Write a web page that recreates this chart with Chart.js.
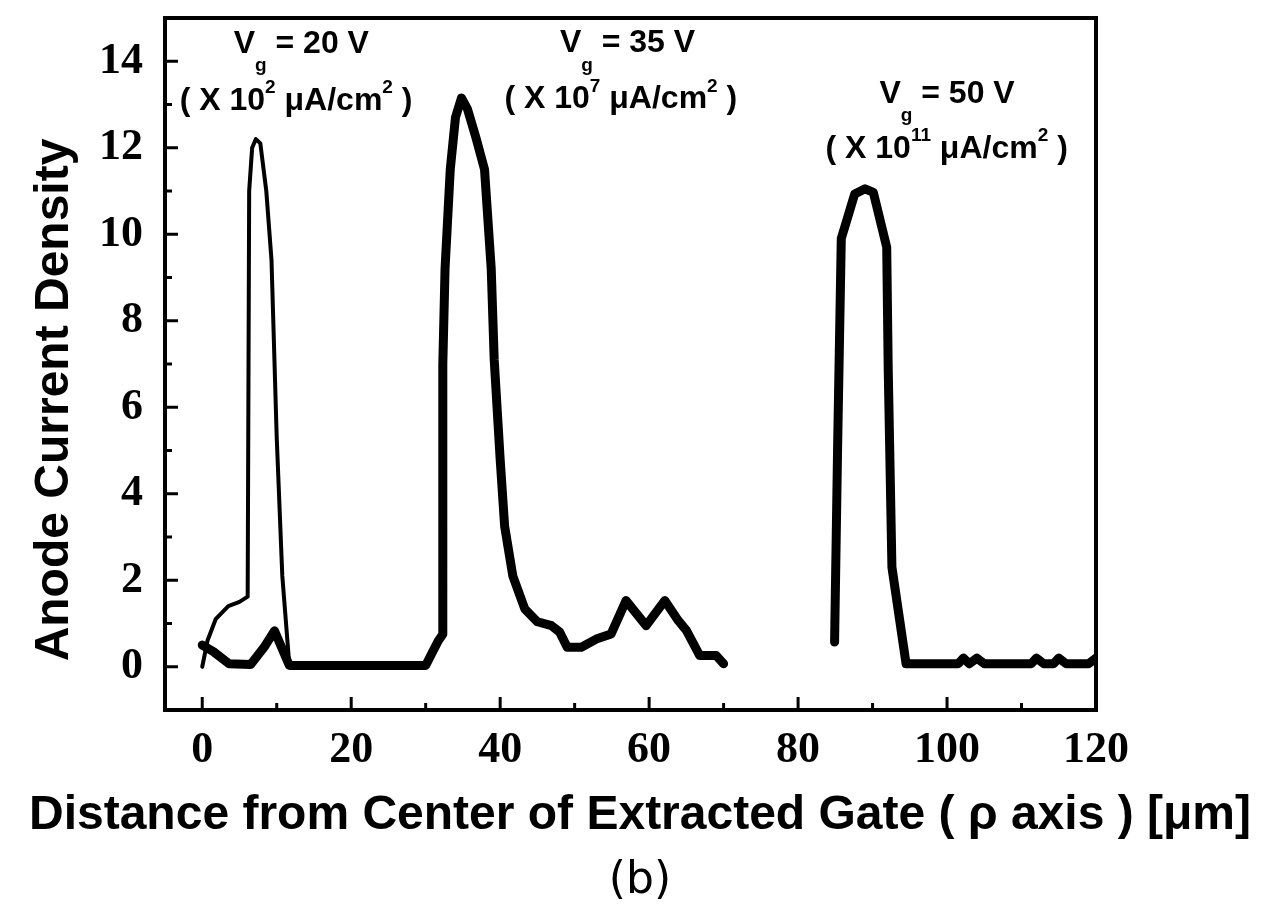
<!DOCTYPE html>
<html>
<head>
<meta charset="utf-8">
<script src="https://cdn.jsdelivr.net/npm/chart.js@4"></script>
<style>
  html, body { margin: 0; padding: 0; background: #fff; }
</style>
</head>
<body>
<canvas id="chart" width="1279" height="920"></canvas>
<script>
// Vg = 20 V  (x 10^2 uA/cm2), thin trace
const x20 = [0, 0.7, 1.8, 3.5, 5.0, 6.1, 6.3, 6.7, 7.2, 7.8, 8.6, 9.3, 10.0, 10.75, 11.7, 20, 30];
const y20 = [0, 0.6, 1.1, 1.4, 1.5, 1.62, 11.0, 12.0, 12.2, 12.1, 11.0, 9.4, 5.3, 2.1, 0.02, 0.02, 0.02];

// Vg = 35 V  (x 10^7 uA/cm2)
const x35 = [0, 1.5, 3.6, 6.5, 8.3, 9.7, 11.7, 30, 30.8, 31.7, 32.3, 32.3, 32.6, 33.3, 34.0, 34.8, 35.6, 36.8,
             37.9, 38.8, 39.2, 40.0, 40.6, 41.7, 43.3, 45.0, 46.9, 48.0, 49.0, 50.9, 52.9, 54.9, 56.9, 59.6,
             62.1, 63.9, 65.0, 66.8, 69.0, 70.0];
const y35 = [0.5, 0.35, 0.07, 0.05, 0.45, 0.83, 0.03, 0.03, 0.3, 0.6, 0.75, 7.0, 9.2, 11.5, 12.7, 13.15, 12.9, 12.2,
             11.5, 9.2, 7.1, 4.8, 3.25, 2.1, 1.34, 1.04, 0.95, 0.8, 0.45, 0.45, 0.64, 0.76, 1.53, 0.95,
             1.53, 1.07, 0.84, 0.26, 0.26, 0.07];

// Vg = 50 V  (x 10^11 uA/cm2)
const x50 = [84.9, 85.3, 85.8, 86.5, 87.6, 89.0, 90.1, 91.9, 92.1, 92.6, 94.5, 101.5, 102.2, 103.0, 104.0, 105.0,
             111.3, 112.0, 113.0, 114.3, 115.0, 116.0, 119.0, 120.0];
const y50 = [0.57, 5.0, 9.9, 10.3, 10.93, 11.05, 10.97, 9.7, 6.9, 2.3, 0.07, 0.07, 0.2, 0.07, 0.2, 0.07,
             0.07, 0.2, 0.07, 0.07, 0.2, 0.07, 0.07, 0.2];

const xTicks = [0, 20, 40, 60, 80, 100, 120];
const xMinor = [10, 30, 50, 70, 90, 110];
const yTicks = [0, 2, 4, 6, 8, 10, 12, 14];
const yMinor = [1, 3, 5, 7, 9, 11, 13];

const xTitle = 'Distance from Center of Extracted Gate ( ρ axis ) [μm]';
const yTitle = 'Anode Current Density';
const caption = '(b)';

// curve labels, anchored in data units
const notes = [
  {x: 13.3, y: 14.4, parts: [['V'], ['g', 'sub'], [' = 20 V']]},
  {x: 12.6, y: 13.08, parts: [['( X 10'], ['2', 'sup'], [' μA/cm'], ['2', 'sup'], [' )']]},
  {x: 57.1, y: 14.41, parts: [['V'], ['g', 'sub'], [' = 35 V']]},
  {x: 56.2, y: 13.12, parts: [['( X 10'], ['7', 'sup'], [' μA/cm'], ['2', 'sup'], [' )']]},
  {x: 100.0, y: 13.24, parts: [['V'], ['g', 'sub'], [' = 50 V']]},
  {x: 99.95, y: 11.97, parts: [['( X 10'], ['11', 'sup'], [' μA/cm'], ['2', 'sup'], [' )']]}
];

function pairs(xs, ys) {
  return xs.map((x, i) => ({x: x, y: ys[i]}));
}

const BIG = 'bold 32px "Liberation Sans", Arial, sans-serif';
const SMALL = 'bold 19px "Liberation Sans", Arial, sans-serif';
const TITLE = 'bold 48px "Liberation Sans", Arial, sans-serif';

function drawNote(ctx, cx, cy, parts) {
  let w = 0;
  parts.forEach(p => { ctx.font = p[1] ? SMALL : BIG; w += ctx.measureText(p[0]).width; });
  let x = cx - w / 2;
  parts.forEach(p => {
    ctx.font = p[1] ? SMALL : BIG;
    let dy = p[1] == 'sub' ? 22 : (p[1] == 'sup' ? -13 : 0);
    ctx.fillText(p[0], x, cy + dy);
    x += ctx.measureText(p[0]).width;
  });
}

const framePlugin = {
  id: 'frame',
  afterDraw(chart) {
    const ctx = chart.ctx;
    const a = chart.chartArea;
    const sx = chart.scales.x, sy = chart.scales.y;
    ctx.save();
    ctx.strokeStyle = '#000';
    ctx.fillStyle = '#000';
    ctx.lineWidth = 3;
    // inward ticks
    xTicks.forEach(v => { let p = sx.getPixelForValue(v); ctx.beginPath(); ctx.moveTo(p, a.bottom); ctx.lineTo(p, a.bottom - 13); ctx.stroke(); });
    xMinor.forEach(v => { let p = sx.getPixelForValue(v); ctx.beginPath(); ctx.moveTo(p, a.bottom); ctx.lineTo(p, a.bottom - 7); ctx.stroke(); });
    yTicks.forEach(v => { let p = sy.getPixelForValue(v); ctx.beginPath(); ctx.moveTo(a.left, p); ctx.lineTo(a.left + 13, p); ctx.stroke(); });
    yMinor.forEach(v => { let p = sy.getPixelForValue(v); ctx.beginPath(); ctx.moveTo(a.left, p); ctx.lineTo(a.left + 7, p); ctx.stroke(); });
    // box
    ctx.lineWidth = 4;
    ctx.strokeRect(a.left, a.top, a.right - a.left, a.bottom - a.top);

    // labels on the curves
    ctx.textBaseline = 'middle';
    ctx.textAlign = 'left';
    notes.forEach(n => drawNote(ctx, sx.getPixelForValue(n.x), sy.getPixelForValue(n.y), n.parts));

    // axis titles and caption
    ctx.textAlign = 'center';
    ctx.font = TITLE;
    ctx.fillText(xTitle, a.left + 475, a.bottom + 106);
    ctx.font = '44px "DejaVu Sans", sans-serif';
    ctx.fillText(caption, a.left + 475, a.bottom + 172);

    ctx.font = TITLE;
    ctx.translate(a.left - 110, (a.top + a.bottom) / 2 + 36);
    ctx.rotate(-Math.PI / 2);
    ctx.fillText(yTitle, 0, 0);
    ctx.restore();
  }
};

const tickFont = {family: '"Liberation Serif", "Times New Roman", serif', size: 44, weight: 'bold'};

const config = {
  type: 'scatter',
  data: {
    datasets: [
      {label: 'Vg = 20 V', data: pairs(x20, y20), showLine: true, borderColor: '#000', borderWidth: 4,
       pointRadius: 0, tension: 0, borderJoinStyle: 'round', borderCapStyle: 'round'},
      {label: 'Vg = 35 V', data: pairs(x35, y35), showLine: true, borderColor: '#000', borderWidth: 9,
       pointRadius: 0, tension: 0, borderJoinStyle: 'round', borderCapStyle: 'round'},
      {label: 'Vg = 50 V', data: pairs(x50, y50), showLine: true, borderColor: '#000', borderWidth: 9,
       pointRadius: 0, tension: 0, borderJoinStyle: 'round', borderCapStyle: 'round'}
    ]
  },
  options: {
    responsive: false,
    animation: false,
    devicePixelRatio: 1,
    layout: {padding: {left: 0, right: 183, top: 18, bottom: 68}},
    plugins: {
      legend: {display: false},
      tooltip: {enabled: false},
      title: {display: false}
    },
    scales: {
      x: {
        type: 'linear', min: -5, max: 120,
        grid: {display: false},
        border: {display: false},
        afterBuildTicks: s => { s.ticks = xTicks.map(v => ({value: v})); },
        afterFit: s => { s.height = 142; s.paddingLeft = 0; s.paddingRight = 0; },
        ticks: {color: '#000', font: tickFont, padding: 6, maxRotation: 0}
      },
      y: {
        type: 'linear', min: -1, max: 15,
        grid: {display: false},
        border: {display: false},
        afterBuildTicks: s => { s.ticks = yTicks.map(v => ({value: v})); },
        afterFit: s => { s.width = 165; s.paddingTop = 0; s.paddingBottom = 0; },
        ticks: {color: '#000', font: tickFont, padding: 14}
      }
    }
  },
  plugins: [framePlugin]
};

new Chart(document.getElementById('chart').getContext('2d'), config);
</script>
</body>
</html>
